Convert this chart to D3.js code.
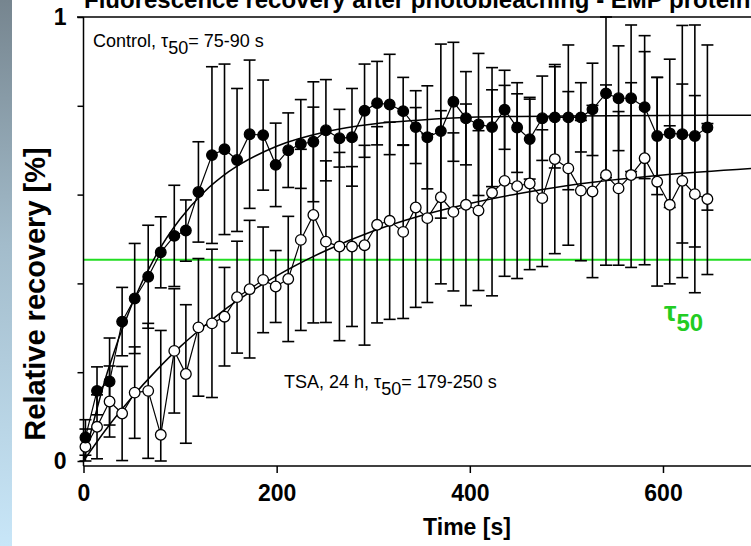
<!DOCTYPE html>
<html>
<head>
<meta charset="utf-8">
<script src="https://d3js.org/d3.v7.min.js"></script>
<style>
  body { margin: 0; background: #fff; }
  svg { display: block; font-family: "Liberation Sans", Arial, sans-serif; }
</style>
</head>
<body>
<script>
// sampling times (s), shared by both series
var times = [2, 14, 27, 40, 53, 67, 80, 94, 106, 119, 133, 146, 159, 172, 186, 199, 212, 225, 238, 251,
             265, 278, 291, 304, 317, 331, 344, 356, 370, 383, 396, 409, 423, 436, 449, 462, 475, 488, 502, 515,
             527, 541, 554, 567, 581, 594, 607, 620, 633, 646];

// control cells (filled circles)
var ctrlMean = [0.053, 0.158, 0.179, 0.314, 0.366, 0.415, 0.470, 0.507, 0.519, 0.606,
                0.689, 0.702, 0.678, 0.736, 0.734, 0.667, 0.700, 0.714, 0.719, 0.745,
                0.727, 0.729, 0.789, 0.806, 0.803, 0.788, 0.752, 0.729, 0.743, 0.809,
                0.772, 0.758, 0.752, 0.791, 0.751, 0.725, 0.772, 0.774, 0.774, 0.774,
                0.792, 0.828, 0.817, 0.817, 0.797, 0.732, 0.738, 0.736, 0.732, 0.751];
var ctrlErr = [0.040, 0.054, 0.098, 0.077, 0.124, 0.116, 0.080, 0.114, 0.069, 0.113,
               0.199, 0.192, 0.161, 0.167, 0.124, 0.094, 0.084, 0.100, 0.135, 0.114,
               0.065, 0.110, 0.105, 0.094, 0.113, 0.076, 0.082, 0.116, 0.196, 0.134,
               0.105, 0.160, 0.134, 0.089, 0.101, 0.090, 0.095, 0.114, 0.163, 0.078,
               0.104, 0.190, 0.118, 0.165, 0.161, 0.132, 0.167, 0.245, 0.250, 0.186];

// TSA treated cells (open circles)
var tsaMean = [0.032, 0.077, 0.134, 0.107, 0.154, 0.158, 0.059, 0.248, 0.196, 0.301,
               0.310, 0.325, 0.369, 0.387, 0.408, 0.393, 0.410, 0.498, 0.554, 0.494,
               0.483, 0.483, 0.486, 0.532, 0.541, 0.516, 0.571, 0.547, 0.594, 0.561,
               0.577, 0.564, 0.604, 0.631, 0.619, 0.625, 0.592, 0.680, 0.659, 0.609,
               0.607, 0.644, 0.614, 0.644, 0.682, 0.629, 0.577, 0.631, 0.601, 0.590];
var tsaErr = [0.040, 0.072, 0.080, 0.106, 0.103, 0.152, 0.235, 0.140, 0.156, 0.155,
              0.167, 0.111, 0.126, 0.155, 0.119, 0.081, 0.141, 0.204, 0.243, 0.182,
              0.212, 0.180, 0.225, 0.221, 0.222, 0.195, 0.225, 0.190, 0.195, 0.178,
              0.227, 0.180, 0.232, 0.215, 0.208, 0.194, 0.154, 0.213, 0.173, 0.158,
              0.194, 0.203, 0.173, 0.208, 0.240, 0.235, 0.178, 0.218, 0.222, 0.170];

// fitted recovery curves
var fitTimes = [0, 25, 50, 75, 100, 125, 150, 200, 250, 300, 350, 400, 450, 500, 600, 700];
var ctrlFit = [0, 0.202, 0.352, 0.463, 0.545, 0.606, 0.651, 0.709, 0.741, 0.759, 0.768, 0.774, 0.776, 0.777, 0.778, 0.779];
var tsaFit  = [0, 0.076, 0.143, 0.203, 0.257, 0.304, 0.347, 0.417, 0.473, 0.518, 0.553, 0.580, 0.602, 0.620, 0.644, 0.660];

var tau50 = 0.453;
var xTicks = [0, 200, 400, 600];
var yTicks = [0, 0.2, 0.4, 0.6, 0.8, 1];

var width = 751, height = 546;

var svg = d3.select("body").append("svg")
            .attr("width", width)
            .attr("height", height);

// left gradient strip
var grad = svg.append("defs").append("linearGradient")
              .attr("id", "strip")
              .attr("x1", 0).attr("y1", 0).attr("x2", 0).attr("y2", 1);
grad.append("stop").attr("offset", "0%").attr("stop-color", "#76858f");
grad.append("stop").attr("offset", "45%").attr("stop-color", "#a3bccb");
grad.append("stop").attr("offset", "100%").attr("stop-color", "#c8e6f8");
svg.append("rect")
   .attr("x", 0).attr("y", 0)
   .attr("width", 12).attr("height", height)
   .attr("fill", "url(#strip)");

var xScale = d3.scaleLinear().domain([0, 700]).range([83.5, 83.5 + 0.9658 * 700]);
var yScale = d3.scaleLinear().domain([0, 1]).range([461, 17]);
var xAxisY = 466;

// title (cut off at top of the picture, as in the original)
svg.append("text")
   .attr("x", 84).attr("y", 8)
   .attr("font-size", 24).attr("font-weight", "bold")
   .text("Fluorescence recovery after photobleaching - EMP protein");

// green tau50 line
svg.append("line")
   .attr("x1", 83.5).attr("x2", width)
   .attr("y1", yScale(tau50)).attr("y2", yScale(tau50))
   .attr("stroke", "#22dd22").attr("stroke-width", 2);

// frame: top line and axes
svg.append("line")
   .attr("x1", 77).attr("x2", width)
   .attr("y1", yScale(1)).attr("y2", yScale(1))
   .attr("stroke", "#000").attr("stroke-width", 1.5);
svg.append("line")
   .attr("x1", 83.5).attr("x2", 83.5)
   .attr("y1", yScale(1)).attr("y2", xAxisY)
   .attr("stroke", "#000").attr("stroke-width", 1.5);
svg.append("line")
   .attr("x1", 83.5).attr("x2", width)
   .attr("y1", xAxisY).attr("y2", xAxisY)
   .attr("stroke", "#000").attr("stroke-width", 1.5);

var yAxis = d3.axisLeft(yScale)
              .tickValues(yTicks)
              .tickSize(6)
              .tickPadding(11)
              .tickFormat(function(d){ return (d === 0 || d === 1) ? d3.format("d")(d) : ""; });
var gy = svg.append("g")
            .attr("transform", "translate(83.5,0)")
            .call(yAxis);
gy.select(".domain").remove();
gy.selectAll("line").attr("stroke-width", 1.5);
gy.selectAll("text").attr("font-size", 23).attr("font-weight", "bold")
  .attr("font-family", "Liberation Sans, Arial, sans-serif").attr("fill", "#000");

var xAxis = d3.axisBottom(xScale)
              .tickValues(xTicks)
              .tickSize(7)
              .tickPadding(12)
              .tickSizeOuter(0);
var gx = svg.append("g")
            .attr("transform", "translate(0," + xAxisY + ")")
            .call(xAxis);
gx.select(".domain").remove();
gx.selectAll("line").attr("stroke-width", 1.5);
gx.selectAll("text").attr("font-size", 23).attr("font-weight", "bold")
  .attr("font-family", "Liberation Sans, Arial, sans-serif").attr("fill", "#000");

// axis titles
svg.append("text")
   .attr("x", 467).attr("y", 535)
   .attr("text-anchor", "middle")
   .attr("font-size", 23).attr("font-weight", "bold")
   .text("Time [s]");
svg.append("text")
   .attr("transform", "translate(45,294) rotate(-90)")
   .attr("text-anchor", "middle")
   .attr("font-size", 29).attr("font-weight", "bold")
   .text("Relative recovery [%]");

// builds the error bars of one series
var clamp = function(v){ return Math.max(0, Math.min(1, v)); };
var drawErrors = function(mean, err){
    var g = svg.append("g").attr("stroke", "#000").attr("stroke-width", 1.6).attr("fill", "none");
    times.forEach(function(t, i){
        var cx = xScale(t);
        var hi = yScale(clamp(mean[i] + err[i]));
        var lo = yScale(clamp(mean[i] - err[i]));
        g.append("line").attr("x1", cx).attr("x2", cx).attr("y1", hi).attr("y2", lo);
        g.append("line").attr("x1", cx - 6).attr("x2", cx + 6).attr("y1", hi).attr("y2", hi);
        g.append("line").attr("x1", cx - 6).attr("x2", cx + 6).attr("y1", lo).attr("y2", lo);
    });
};
drawErrors(tsaMean, tsaErr);
drawErrors(ctrlMean, ctrlErr);

// fitted curves
var fitLine = d3.line()
                .x(function(d){ return xScale(d[0]); })
                .y(function(d){ return yScale(d[1]); })
                .curve(d3.curveMonotoneX);
svg.append("path")
   .attr("d", fitLine(d3.zip(fitTimes, ctrlFit)))
   .attr("fill", "none").attr("stroke", "#000").attr("stroke-width", 1.5);
svg.append("path")
   .attr("d", fitLine(d3.zip(fitTimes, tsaFit)))
   .attr("fill", "none").attr("stroke", "#000").attr("stroke-width", 1.5);

// data lines and markers
var dataLine = d3.line()
                 .x(function(d){ return xScale(d[0]); })
                 .y(function(d){ return yScale(d[1]); });
var drawSeries = function(mean, fill){
    svg.append("path")
       .attr("d", dataLine(d3.zip(times, mean)))
       .attr("fill", "none").attr("stroke", "#000").attr("stroke-width", 1.2);
    svg.append("g").selectAll("circle")
       .data(d3.zip(times, mean))
       .enter()
       .append("circle")
       .attr("cx", function(d){ return xScale(d[0]); })
       .attr("cy", function(d){ return yScale(d[1]); })
       .attr("r", 5.3)
       .attr("fill", fill)
       .attr("stroke", "#000")
       .attr("stroke-width", 1.3);
};
drawSeries(tsaMean, "#fff");
drawSeries(ctrlMean, "#000");

// annotations
var ctrlLabel = svg.append("text").attr("x", 93).attr("y", 47).attr("font-size", 18);
ctrlLabel.append("tspan").text("Control, \u03c4");
ctrlLabel.append("tspan").attr("dy", 7).text("50");
ctrlLabel.append("tspan").attr("dy", -7).text("= 75-90 s");

var tsaLabel = svg.append("text").attr("x", 284).attr("y", 388).attr("font-size", 18);
tsaLabel.append("tspan").text("TSA, 24 h, \u03c4");
tsaLabel.append("tspan").attr("dy", 7).text("50");
tsaLabel.append("tspan").attr("dy", -7).text("= 179-250 s");

var tauLabel = svg.append("text").attr("x", 664).attr("y", 321)
                  .attr("fill", "#22cc22").attr("font-weight", "bold");
tauLabel.append("tspan").attr("font-size", 28).text("\u03c4");
tauLabel.append("tspan").attr("font-size", 24).attr("dy", 10).text("50");
</script>
</body>
</html>
